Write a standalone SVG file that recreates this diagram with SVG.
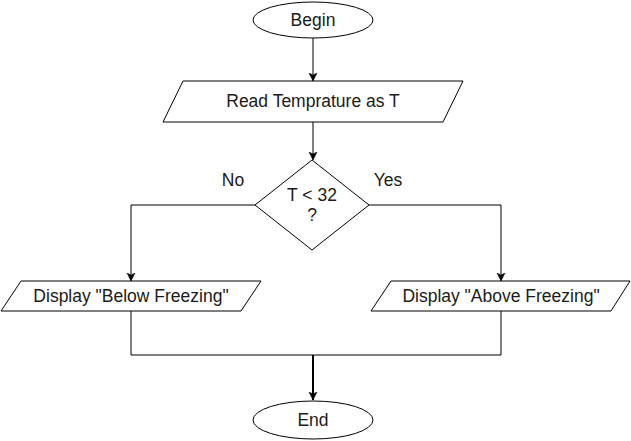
<svg xmlns="http://www.w3.org/2000/svg" width="631" height="441" viewBox="0 0 631 441">
<style>
.s{fill:#fff;stroke:#000;stroke-width:1}
.t{font-family:"Liberation Sans",Arial,sans-serif;font-size:17.5px;fill:#1a1a1a;text-anchor:middle;dominant-baseline:central}
.c{fill:none;stroke:#000;stroke-width:1}
</style>
<defs>
<marker id="a" markerWidth="10" markerHeight="10" refX="8" refY="5" orient="auto" markerUnits="userSpaceOnUse">
<path d="M0,1 L8,5 L0,9 L2,5 Z" fill="#000" stroke="#000" stroke-width="0.5"/>
</marker>
</defs>
<rect width="631" height="441" fill="#fff"/>
<g id="connectors">
<path class="c" d="M313,38 V81" marker-end="url(#a)"/>
<path class="c" d="M313,122 V160" marker-end="url(#a)"/>
<path class="c" d="M255,205 H131 V281" marker-end="url(#a)"/>
<path class="c" d="M369,205 H501 V281" marker-end="url(#a)"/>
<path class="c" d="M131,311 V355 H501 V311"/>
<path class="c" d="M313,355 V400" style="stroke-width:2" marker-end="url(#a)"/>
<text class="t" x="233" y="180">No</text>
<text class="t" x="388" y="180">Yes</text>
</g>
<g id="begin">
<ellipse class="s" cx="313" cy="20" rx="60" ry="18"/>
<text class="t" x="313" y="20">Begin</text>
</g>
<g id="read">
<polygon class="s" points="183,81 463,81 443,122 163,122"/>
<text class="t" x="313" y="101">Read Temprature as T</text>
</g>
<g id="decision">
<polygon class="s" points="312,160 369,205 312,250 255,205"/>
<text class="t" x="312" y="195">T &lt; 32</text>
<text class="t" x="312" y="215">?</text>
</g>
<g id="below">
<polygon class="s" points="21,281 261,281 241,311 1,311"/>
<text class="t" x="131" y="296">Display "Below Freezing"</text>
</g>
<g id="above">
<polygon class="s" points="391,281 630,281 611,311 371,311"/>
<text class="t" x="501" y="296">Display "Above Freezing"</text>
</g>
<g id="end">
<ellipse class="s" cx="313" cy="420" rx="60" ry="19"/>
<text class="t" x="313" y="420">End</text>
</g>
</svg>
